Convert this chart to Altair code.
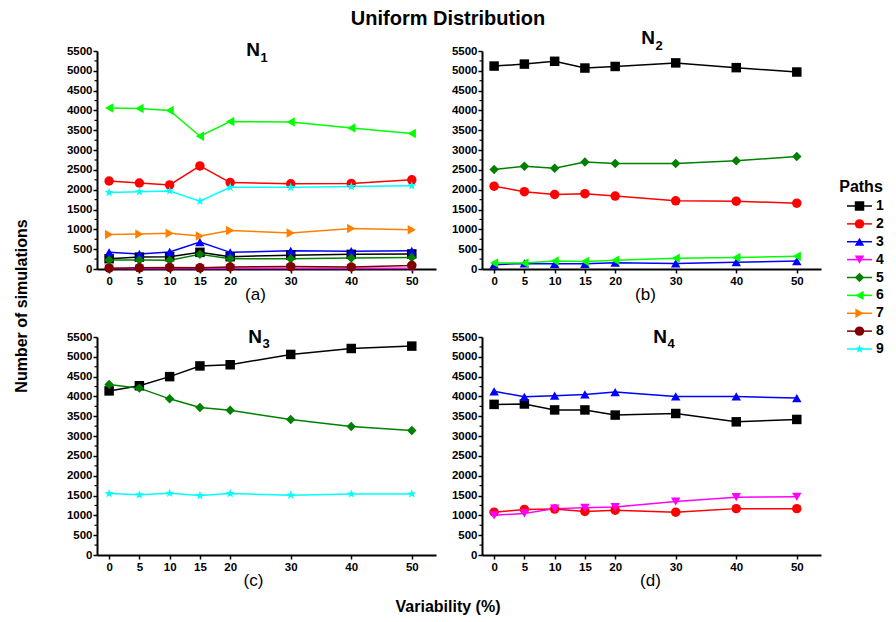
import altair as alt
import pandas as pd

# ---------------- data ----------------
X = [0, 5, 10, 15, 20, 30, 40, 50]
PATHS = ["1", "2", "3", "4", "5", "6", "7", "8", "9"]
COLORS = ["#000000", "#FF0000", "#0000FF", "#FF00FF", "#008000",
          "#00FF00", "#FF8000", "#800000", "#00FFFF"]
STAR = ("M0,-1L0.235,-0.324L0.951,-0.309L0.38,0.124L0.588,0.809L0,0.4"
        "L-0.588,0.809L-0.38,0.124L-0.951,-0.309L-0.235,-0.324Z")
SHAPES = ["square", "circle", "triangle-up", "triangle-down", "diamond",
          "triangle-left", "triangle-right", "circle", STAR]

N1 = {
    "1": [260, 300, 310, 420, 310, 350, 370, 380],
    "2": [2220, 2170, 2120, 2600, 2180, 2150, 2160, 2250],
    "3": [420, 380, 430, 680, 420, 460, 450, 460],
    "4": [10, 10, 10, 10, 20, 20, 20, 20],
    "5": [230, 230, 220, 370, 260, 260, 280, 290],
    "6": [4060, 4050, 4000, 3350, 3720, 3710, 3560, 3420],
    "7": [870, 880, 900, 830, 970, 910, 1020, 990],
    "8": [20, 30, 40, 30, 50, 60, 50, 90],
    "9": [1930, 1950, 1970, 1710, 2060, 2060, 2080, 2100],
}
N2 = {
    "1": [5120, 5170, 5240, 5070, 5110, 5200, 5080, 4970],
    "2": [2090, 1950, 1880, 1900, 1840, 1720, 1710, 1660],
    "3": [110, 140, 130, 130, 160, 140, 170, 200],
    "5": [2510, 2590, 2540, 2700, 2660, 2660, 2730, 2840],
    "6": [150, 150, 200, 190, 220, 270, 290, 320],
}
N3 = {
    "1": [4140, 4270, 4500, 4770, 4800, 5060, 5210, 5270],
    "5": [4300, 4210, 3940, 3720, 3650, 3420, 3240, 3140],
    "9": [1550, 1520, 1560, 1500, 1550, 1510, 1540, 1540],
}
N4 = {
    "1": [3800, 3810, 3660, 3660, 3530, 3570, 3360, 3420],
    "2": [1080, 1150, 1160, 1100, 1130, 1080, 1170, 1170],
    "3": [4130, 3990, 4020, 4050, 4110, 4000, 4000, 3960],
    "4": [1000, 1050, 1170, 1190, 1210, 1350, 1460, 1470],
}
Y_TICKS = list(range(0, 5501, 500))
Y_MINOR = list(range(250, 5500, 500))

FONT = "Liberation Sans"
W, H = 339, 218


def one(text, **kw):
    return alt.Chart(pd.DataFrame({"t": [text]})).mark_text(
        font=FONT, color="black", **kw).encode(text="t:N")


def panel(series, sub, label, nx, ny, sy, lx, extra=()):
    rows = [{"x": x, "y": v, "path": p}
            for p, vals in series.items() for x, v in zip(X, vals)]
    df = pd.DataFrame(rows)
    xenc = alt.X("x:Q", scale=alt.Scale(domain=[-2, 54], nice=False, zero=False),
                 axis=alt.Axis(values=X, title=label, titleFontWeight="normal",
                               titleFontSize=17, titleFont=FONT, titlePadding=0,
                               titleX=lx, titleAnchor="start", titleAlign="center",
                               labelPadding=2, tickSize=4))
    yenc = alt.Y("y:Q", scale=alt.Scale(domain=[0, 5500], nice=False),
                 axis=alt.Axis(values=Y_TICKS, title=None, tickSize=4,
                               labelPadding=1, format="d"))
    color = alt.Color("path:N", scale=alt.Scale(domain=PATHS, range=COLORS), legend=None)
    shape = alt.Shape("path:N", scale=alt.Scale(domain=PATHS, range=SHAPES), legend=None)
    base = alt.Chart(df)
    lines = base.mark_line(strokeWidth=1.5).encode(x=xenc, y=yenc, color=color)
    pts = base.mark_point(filled=True, size=90, opacity=1).encode(
        x=xenc, y=yenc, color=color, shape=shape)
    minor = alt.Chart(pd.DataFrame({"y": Y_MINOR})).mark_rule(
        color="black", strokeWidth=1.2).encode(
        y=yenc, x=alt.value(-2.5), x2=alt.value(0))
    n = one("N", fontSize=19, fontWeight="bold", align="center",
            baseline="alphabetic").encode(x=alt.value(nx), y=alt.value(ny))
    s = one(sub, fontSize=13, fontWeight="bold", align="left",
            baseline="alphabetic").encode(x=alt.value(nx + 7.5), y=alt.value(sy))
    layers = [minor, lines, pts, n, s] + list(extra)
    return alt.layer(*layers).properties(width=W, height=H)


# legend drawn as marks (placed right of panel b)
leg_df = pd.DataFrame({"path": PATHS})
leg_y = alt.Y("path:O", scale=alt.Scale(domain=PATHS, range=[155, 298],
                                        type="point", padding=0), axis=None)
leg_color = alt.Color("path:N", scale=alt.Scale(domain=PATHS, range=COLORS), legend=None)
leg_shape = alt.Shape("path:N", scale=alt.Scale(domain=PATHS, range=SHAPES), legend=None)
leg_base = alt.Chart(leg_df)
leg_lines = leg_base.mark_rule(strokeWidth=1.5).encode(
    y=leg_y, x=alt.value(365), x2=alt.value(390), color=leg_color)
leg_pts = leg_base.mark_point(filled=True, size=90, opacity=1).encode(
    y=leg_y, x=alt.value(377.5), color=leg_color, shape=leg_shape)
leg_txt = leg_base.mark_text(font=FONT, fontSize=14, fontWeight="bold", align="left",
                             baseline="middle", color="black").encode(
    y=leg_y, x=alt.value(394), text="path:N")
leg_title = one("Paths", fontSize=16, fontWeight="bold", align="center",
                baseline="middle").encode(x=alt.value(379), y=alt.value(136))

main_title = one("Uniform Distribution", fontSize=20, fontWeight="bold",
                 align="center", baseline="middle").encode(
    x=alt.value(351), y=alt.value(-32))
ytitle = one("Number of simulations", fontSize=16, fontWeight="bold",
             align="center", baseline="middle", angle=270).encode(
    x=alt.value(-75), y=alt.value(255))
xtitle = one("Variability (%)", fontSize=16, fontWeight="bold",
             align="center", baseline="middle").encode(
    x=alt.value(351), y=alt.value(270))

pa = panel(N1, "1", "(a)", 156, 5, 11, 158, [main_title, ytitle])
pb = panel(N2, "2", "(b)", 166, -7, -1, 163)
pb = alt.layer(pb, leg_lines, leg_pts, leg_txt, leg_title).resolve_scale(y="independent")
pc = panel(N3, "3", "(c)", 158, 6, 11, 156, [xtitle])
pd_ = panel(N4, "4", "(d)", 178, 6, 11, 168)

chart = alt.concat(pa, pb, pc, pd_, columns=2, spacing={"row": 68, "column": 46},
                   bounds="flush").properties(
    padding={"left": 6, "top": 1, "right": 0, "bottom": 0}
).configure_view(stroke=None).configure_axis(
    grid=False, domainColor="black", domainWidth=2, tickColor="black", tickWidth=1.5,
    labelFont=FONT, labelFontWeight="bold", labelFontSize=11.5, labelColor="black",
    titleColor="black"
)

chart.save("out.html", embed_options={"renderer": "svg", "actions": False})
